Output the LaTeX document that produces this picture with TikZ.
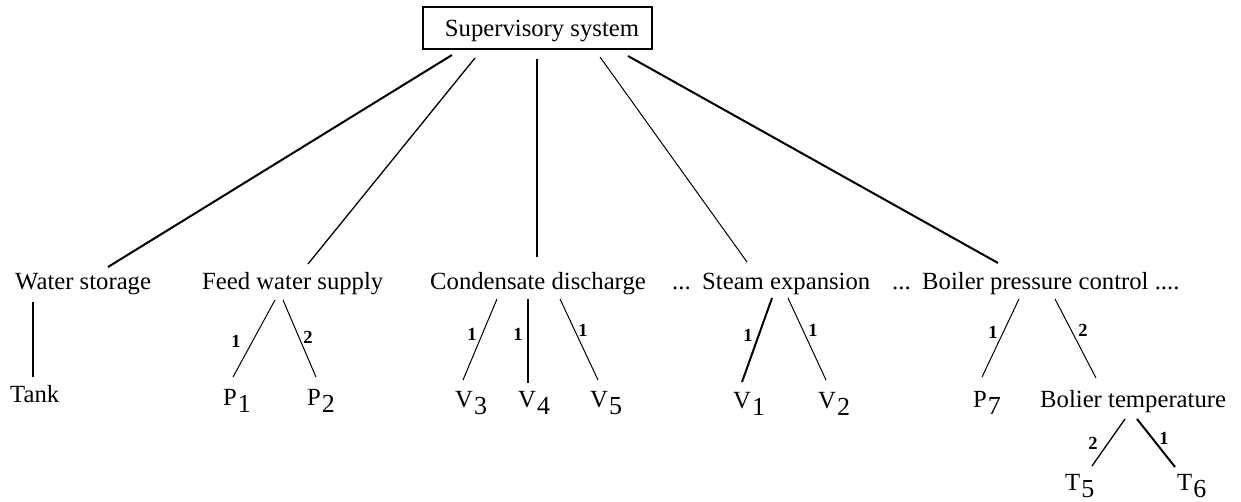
\documentclass[tikz,border=0pt]{standalone}
\usepackage{fontspec}
\setmainfont{Liberation Serif}
\begin{document}
\begin{tikzpicture}[x=1pt,y=-1pt,
  txt/.style={inner sep=0pt,anchor=base west,font=\fontsize{24.7}{30}\selectfont},
  num/.style={inner sep=0pt,font=\fontsize{18.5}{22}\selectfont\bfseries},
  link/.style={line width=1.3pt},
  thinlink/.style={line width=1pt},
  boldlink/.style={line width=2pt}]
\newcommand{\sub}[2]{#1\hspace{1pt}\raisebox{-7pt}{\fontsize{26}{30}\selectfont #2}}
\useasboundingbox (0,0) rectangle (1241,502);

% root
\node[draw,line width=2pt,inner sep=0pt,anchor=base,text height=30pt,text depth=12pt,
      minimum width=229pt,font=\fontsize{24.7}{30}\selectfont]
  (sup) at (537.5,37) {\hspace*{9pt}Supervisory system};

% first level
\node[txt] (ws) at (15,290) {Water storage};
\node[txt] (fw) at (202,290) {Feed water supply};
\node[txt] (cd) at (430,290) {Condensate discharge};
\node[txt] (dA) at (672,290) {...};
\node[txt] (se) at (702,290) {Steam expansion};
\node[txt] (dB) at (892,290) {...};
\node[txt] (bp) at (922,290) {Boiler pressure control ....};

% second level
\node[txt] (tank) at (10,402) {Tank};
\node[txt] (p1) at (223,405) {\sub{P}{1}};
\node[txt] (p2) at (307,405) {\sub{P}{2}};
\node[txt] (v3) at (455,407) {\sub{V}{3}};
\node[txt] (v4) at (518,407) {\sub{V}{4}};
\node[txt] (v5) at (590,407) {\sub{V}{5}};
\node[txt] (v1) at (733,408) {\sub{V}{1}};
\node[txt] (v2) at (818,408) {\sub{V}{2}};
\node[txt] (p7) at (973,407) {\sub{P}{7}};
\node[txt] (bt) at (1040,407) {Bolier temperature};

% third level
\node[txt] (t5) at (1065,490) {\sub{T}{5}};
\node[txt] (t6) at (1177,490) {\sub{T}{6}};

% root to subsystems
\draw[boldlink] ([shift={(-85.5,18)}]sup.base) -- ([shift={(93,-23)}]ws.base west);
\draw[link] ([shift={(-62.5,21)}]sup.base) -- ([shift={(106,-26)}]fw.base west);
\draw[link] ([shift={(-0.5,22)}]sup.base) -- ([shift={(107,-33)}]cd.base west);
\draw[thinlink] ([shift={(62.5,20)}]sup.base) -- ([shift={(45,-28)}]se.base west);
\draw[boldlink] ([shift={(90.5,19)}]sup.base) -- ([shift={(76,-27)}]bp.base west);

% subsystems to components
\draw[link] ([shift={(18,12)}]ws.base west) -- ([shift={(23,-25)}]tank.base west);

\draw[thinlink] ([shift={(73,10)}]fw.base west) -- ([shift={(10,-28)}]p1.base west);
\draw[thinlink] ([shift={(81,10)}]fw.base west) -- ([shift={(9,-28)}]p2.base west);

\draw[thinlink] ([shift={(67,9)}]cd.base west) -- ([shift={(8,-27)}]v3.base west);
\draw[boldlink] ([shift={(98,9)}]cd.base west) -- ([shift={(10,-24)}]v4.base west);
\draw[thinlink] ([shift={(130,9)}]cd.base west) -- ([shift={(8,-27)}]v5.base west);

\draw[boldlink] ([shift={(70,8)}]se.base west) -- ([shift={(9,-26)}]v1.base west);
\draw[thinlink] ([shift={(86,8)}]se.base west) -- ([shift={(8,-28)}]v2.base west);

\draw[thinlink] ([shift={(97,9)}]bp.base west) -- ([shift={(9,-30)}]p7.base west);
\draw[thinlink] ([shift={(133,9)}]bp.base west) -- ([shift={(56,-29)}]bt.base west);

\draw[link] ([shift={(85,12)}]bt.base west) -- ([shift={(27,-24)}]t5.base west);
\draw[boldlink] ([shift={(97,12)}]bt.base west) -- ([shift={(-2,-23)}]t6.base west);

% branch weights
\node[num] (w1) at (236,341) {1};
\node[num] (w2) at (308,337) {2};
\node[num] (w3) at (472,334) {1};
\node[num] (w4) at (518,334) {1};
\node[num] (w5) at (583,330) {1};
\node[num] (w6) at (748,335) {1};
\node[num] (w7) at (813,330) {1};
\node[num] (w8) at (993,332) {1};
\node[num] (w9) at (1083,330) {2};
\node[num] (w10) at (1093,443) {2};
\node[num] (w11) at (1164,438) {1};
\end{tikzpicture}
\end{document}
